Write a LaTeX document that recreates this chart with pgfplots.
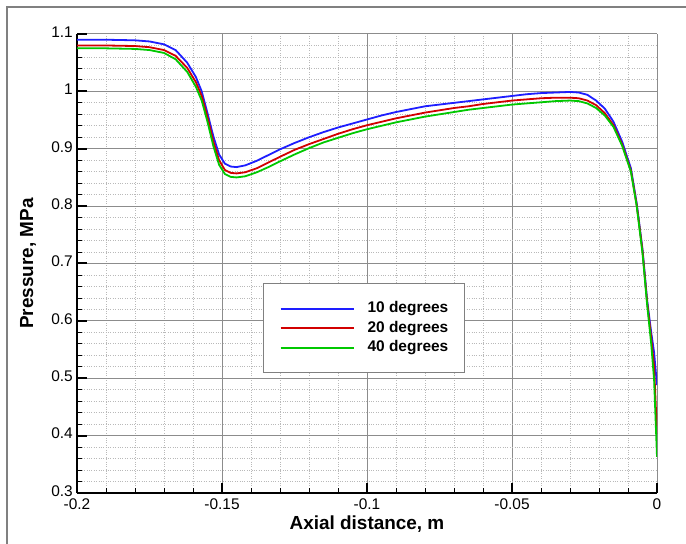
\documentclass[border=0pt]{standalone}
\usepackage{fontspec}
\setmainfont{Liberation Sans}
\usepackage{pgfplots}
\pgfplotsset{compat=1.18}
\usepackage{pgfplotstable}

\definecolor{cblue}{RGB}{30,30,255}
\definecolor{cred}{RGB}{210,0,0}
\definecolor{cgreen}{RGB}{0,200,0}
\definecolor{majgrid}{RGB}{140,140,140}
\definecolor{mingrid}{RGB}{185,185,185}

% wall pressure along the nozzle axis, three half-angles
\pgfplotstableread{
x y
-0.200 1.090
-0.190 1.090
-0.180 1.089
-0.175 1.087
-0.170 1.082
-0.166 1.072
-0.162 1.050
-0.159 1.025
-0.157 1.000
-0.155 0.962
-0.153 0.922
-0.151 0.890
-0.149 0.874
-0.147 0.869
-0.145 0.868
-0.142 0.871
-0.138 0.879
-0.134 0.889
-0.130 0.899
-0.125 0.910
-0.120 0.920
-0.115 0.929
-0.110 0.937
-0.105 0.944
-0.100 0.951
-0.095 0.958
-0.090 0.964
-0.085 0.969
-0.080 0.974
-0.075 0.977
-0.070 0.980
-0.065 0.983
-0.060 0.986
-0.055 0.989
-0.050 0.992
-0.045 0.995
-0.040 0.997
-0.035 0.998
-0.030 0.999
-0.027 0.998
-0.024 0.994
-0.021 0.984
-0.018 0.970
-0.015 0.947
-0.012 0.912
-0.009 0.866
-0.007 0.805
-0.005 0.725
-0.0034 0.636
-0.002 0.580
-0.001 0.545
0.000 0.488
}\tenDeg

\pgfplotstableread{
x y
-0.200 1.080
-0.190 1.080
-0.180 1.079
-0.175 1.077
-0.170 1.072
-0.166 1.062
-0.162 1.041
-0.159 1.016
-0.157 0.992
-0.155 0.955
-0.153 0.913
-0.151 0.880
-0.149 0.863
-0.147 0.858
-0.145 0.857
-0.142 0.859
-0.138 0.866
-0.134 0.876
-0.130 0.886
-0.125 0.898
-0.120 0.908
-0.115 0.917
-0.110 0.926
-0.105 0.934
-0.100 0.941
-0.095 0.947
-0.090 0.953
-0.085 0.958
-0.080 0.963
-0.075 0.967
-0.070 0.971
-0.065 0.974
-0.060 0.978
-0.055 0.981
-0.050 0.984
-0.045 0.986
-0.040 0.988
-0.035 0.989
-0.030 0.989
-0.027 0.988
-0.024 0.984
-0.021 0.976
-0.018 0.962
-0.015 0.941
-0.012 0.907
-0.009 0.862
-0.007 0.802
-0.005 0.722
-0.0034 0.632
-0.002 0.570
-0.001 0.520
0.000 0.403
}\twentyDeg

\pgfplotstableread{
x y
-0.200 1.075
-0.190 1.075
-0.180 1.074
-0.175 1.072
-0.170 1.067
-0.166 1.056
-0.162 1.034
-0.159 1.008
-0.157 0.984
-0.155 0.947
-0.153 0.905
-0.151 0.872
-0.149 0.856
-0.147 0.851
-0.145 0.850
-0.142 0.852
-0.138 0.859
-0.134 0.868
-0.130 0.878
-0.125 0.890
-0.120 0.901
-0.115 0.911
-0.110 0.919
-0.105 0.927
-0.100 0.934
-0.095 0.940
-0.090 0.946
-0.085 0.951
-0.080 0.956
-0.075 0.960
-0.070 0.964
-0.065 0.968
-0.060 0.971
-0.055 0.974
-0.050 0.977
-0.045 0.979
-0.040 0.981
-0.035 0.983
-0.030 0.984
-0.027 0.983
-0.024 0.979
-0.021 0.971
-0.018 0.958
-0.015 0.938
-0.012 0.905
-0.009 0.860
-0.007 0.800
-0.005 0.718
-0.0034 0.628
-0.002 0.560
-0.001 0.497
0.000 0.363
}\fortyDeg

\begin{document}
\begin{tikzpicture}
\useasboundingbox (0,0) rectangle (686bp,544bp);
\fill[white] (0,0) rectangle (686bp,544bp);
% page frame (left and top edges)
\draw[gray, line width=1.2bp] (7bp,0) -- (7bp,537bp) -- (686bp,537bp);

\begin{axis}[
  at={(77bp,51bp)}, anchor=south west,
  scale only axis, width=580bp, height=459bp,
  xmin=-0.2, xmax=0, ymin=0.3, ymax=1.1,
  xtick={-0.2,-0.15,-0.1,-0.05,0},
  xticklabels={-0.2,-0.15,-0.1,-0.05,0},
  ytick={0.3,0.4,0.5,0.6,0.7,0.8,0.9,1,1.1},
  yticklabels={0.3,0.4,0.5,0.6,0.7,0.8,0.9,1,1.1},
  minor x tick num=4, minor y tick num=4,
  /pgf/number format/assume math mode=true,
  axis x line*=bottom, axis y line*=left,
  axis line style={black, line width=2bp},
  tick align=inside,
  major tick length=10bp, minor tick length=5bp,
  major tick style={black, line width=2bp},
  minor tick style={black, line width=0.8bp},
  grid=both,
  major grid style={majgrid, line width=1bp},
  minor grid style={mingrid, dotted, line width=0.8bp},
  ticklabel style={font=\fontsize{15.5}{16}\selectfont},
  xticklabel style={yshift=-4.5bp, inner sep=1bp},
  yticklabel style={yshift=2bp, xshift=-3bp, inner sep=1bp},
  xlabel={Axial distance, m},
  ylabel={Pressure, MPa},
  label style={font=\fontsize{19}{20}\selectfont\bfseries},
  xlabel style={at={(axis description cs:0.5,-0.067)}, anchor=center, inner sep=0.5bp},
  ylabel style={at={(axis description cs:-0.0845,0.5)}, anchor=center},
  legend style={
    at={(axis description cs:0.3207,0.4575)}, anchor=north west,
    draw=gray, line width=1.2bp, fill=white,
    inner xsep=16bp, inner ysep=18bp,
    font=\fontsize{15.5}{16}\selectfont\bfseries,
    nodes={inner sep=0pt, text height=11bp, text depth=3bp},
    row sep=5.5bp, column sep=13bp,
  },
  legend cell align=left,
  legend image code/.code={\draw[#1, line width=2bp] (0bp,0bp) -- (73bp,0bp);},
]
\addplot[cblue, line width=1.8bp] table {\tenDeg};
\addlegendentry{10 degrees}
\addplot[cred, line width=1.8bp] table {\twentyDeg};
\addlegendentry{20 degrees}
\addplot[cgreen, line width=1.8bp] table {\fortyDeg};
\addlegendentry{40 degrees}
\end{axis}
\end{tikzpicture}
\end{document}
